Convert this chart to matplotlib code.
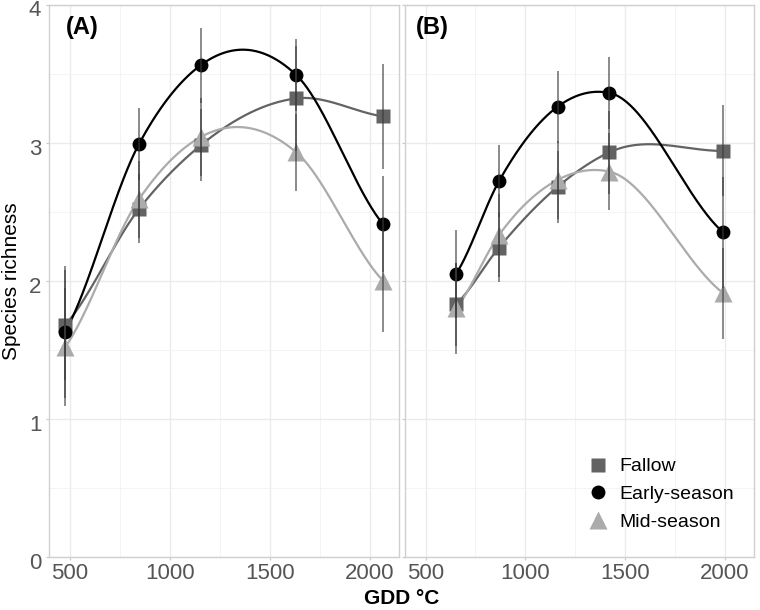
import numpy as np
import matplotlib
matplotlib.use("Agg")
import matplotlib.pyplot as plt
from matplotlib.lines import Line2D
from matplotlib.ticker import MultipleLocator
from matplotlib.transforms import ScaledTranslation

plt.rcParams['font.family'] = ['Liberation Sans', 'DejaVu Sans']

series = ["Fallow", "Early-season", "Mid-season"]

# Panel A
gdd_a = [478, 847, 1155, 1633, 2067]
fallow_a = [1.68, 2.52, 2.98, 3.32, 3.19]
early_a = [1.63, 2.99, 3.56, 3.49, 2.41]
mid_a = [1.52, 2.59, 3.04, 2.93, 2.00]
fallow_a_se = [0.40, 0.25, 0.26, 0.38, 0.38]
early_a_se = [0.48, 0.26, 0.27, 0.26, 0.35]
mid_a_se = [0.43, 0.28, 0.28, 0.28, 0.37]

# Panel B
gdd_b = [653, 868, 1162, 1422, 1993]
fallow_b = [1.83, 2.24, 2.68, 2.93, 2.94]
early_b = [2.05, 2.72, 3.26, 3.36, 2.35]
mid_b = [1.80, 2.33, 2.73, 2.79, 1.91]
fallow_b_se = [0.30, 0.25, 0.26, 0.30, 0.33]
early_b_se = [0.32, 0.26, 0.26, 0.26, 0.40]
mid_b_se = [0.33, 0.30, 0.28, 0.28, 0.33]

panel_labels = ["(A)", "(B)"]

colors = {"Fallow": "#636363", "Early-season": "#000000", "Mid-season": "#ababab"}
markers = {"Fallow": "s", "Early-season": "o", "Mid-season": "^"}
msizes = {"Fallow": 10, "Early-season": 10, "Mid-season": 13}


def smooth_curve(x, y, xs, end_factor=0.7):
    """Cubic Hermite curve: interior tangents from local quadratics, eased ends."""
    x = np.asarray(x, float); y = np.asarray(y, float)
    n = len(x); h = np.diff(x); d = np.diff(y) / h
    m = np.zeros(n)
    for i in range(1, n - 1):
        f2 = (d[i] - d[i - 1]) / (x[i + 1] - x[i - 1])
        m[i] = d[i - 1] + f2 * h[i - 1]
    m[0] = end_factor * d[0]
    m[-1] = end_factor * d[-1]
    idx = np.clip(np.searchsorted(x, xs) - 1, 0, n - 2)
    t = (xs - x[idx]) / h[idx]
    h00 = 2 * t ** 3 - 3 * t ** 2 + 1
    h10 = t ** 3 - 2 * t ** 2 + t
    h01 = -2 * t ** 3 + 3 * t ** 2
    h11 = t ** 3 - t ** 2
    return (h00 * y[idx] + h10 * h[idx] * m[idx] + h01 * y[idx + 1]
            + h11 * h[idx] * m[idx + 1])


fig = plt.figure(figsize=(7.6, 6.1), dpi=100)
ax_a = fig.add_axes([49 / 760, 53 / 610, 350 / 760, 552.5 / 610])
ax_b = fig.add_axes([405 / 760, 53 / 610, 349 / 760, 552.5 / 610])

panels = [
    (ax_a, gdd_a, [fallow_a, early_a, mid_a], [fallow_a_se, early_a_se, mid_a_se]),
    (ax_b, gdd_b, [fallow_b, early_b, mid_b], [fallow_b_se, early_b_se, mid_b_se]),
]

for k, (ax, gx, ys, ses) in enumerate(panels):
    xs = np.linspace(min(gx), max(gx), 400)
    for name, yv, se in zip(series, ys, ses):
        ax.plot(xs, smooth_curve(gx, yv, xs), color=colors[name], lw=1.6, zorder=3)
    for name, yv, se in zip(series, ys, ses):
        ax.plot(gx, yv, linestyle="none", marker=markers[name], ms=msizes[name],
                color=colors[name], mec="none", zorder=4)
    for name, yv, se in zip(series, ys, ses):
        ax.errorbar(gx, yv, yerr=se, fmt="none", ecolor="#3a3a3a", elinewidth=1.1,
                    alpha=0.75, capsize=0, zorder=5)
    ax.set_xlim(397, 2147)
    ax.set_ylim(0, 4.0)
    ax.xaxis.set_major_locator(MultipleLocator(500))
    ax.xaxis.set_minor_locator(MultipleLocator(250))
    ax.yaxis.set_major_locator(MultipleLocator(1))
    ax.yaxis.set_minor_locator(MultipleLocator(0.5))
    ax.grid(which="major", color="#ebebeb", lw=1.0, zorder=0)
    ax.grid(which="minor", color="#f3f3f3", lw=0.6, zorder=0)
    ax.set_axisbelow(True)
    for s in ax.spines.values():
        s.set_color("#d0d0d0"); s.set_linewidth(1.0)
    ax.tick_params(which="major", length=2.5, width=0.8, color="#c8c8c8",
                   labelsize=16, labelcolor="#555555", pad=3)
    ax.tick_params(axis="x", pad=1.5)
    ax.tick_params(which="minor", length=0)
    ax.text(0.047 if k == 0 else 0.031, 0.958, panel_labels[k], transform=ax.transAxes,
            fontsize=17, fontweight="bold", ha="left", va="center")

ax_b.tick_params(axis="y", labelleft=False)
shift = ScaledTranslation(0, -4 / 100, fig.dpi_scale_trans)
for lab in ax_a.get_yticklabels():
    lab.set_transform(lab.get_transform() + shift)
ax_a.set_ylabel("Species richness", fontsize=15, labelpad=6)
fig.text(402 / 760, 1 - 599 / 610, "GDD °C", ha="center", va="center", fontsize=15,
         fontweight="bold")

handles = [Line2D([0], [0], linestyle="none", marker=markers[n], ms=msizes[n],
                  color=colors[n], mec="none") for n in series]
ax_b.legend(handles, series, loc="lower right", bbox_to_anchor=(0.997, 0.012), frameon=False,
            fontsize=14, handletextpad=0.35, labelspacing=0.52, borderaxespad=0.6,
            handlelength=1.4)

fig.savefig("out.png", dpi=100)
